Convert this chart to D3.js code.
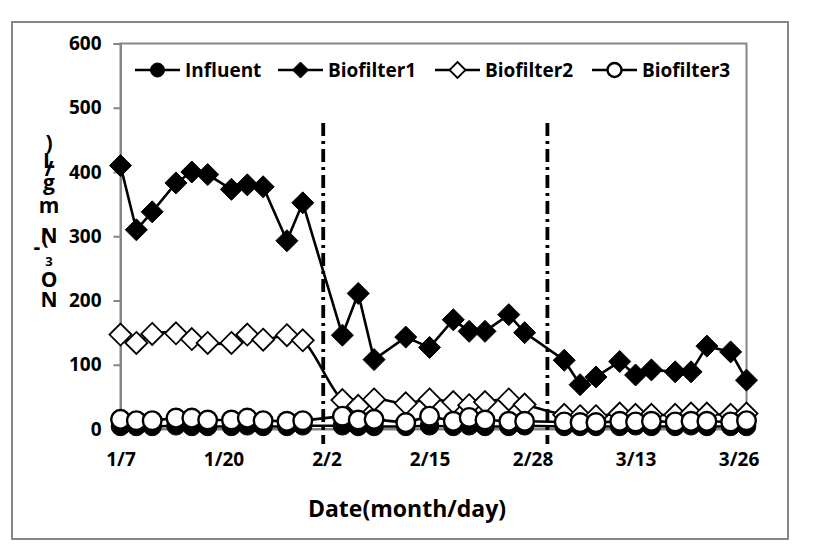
<!DOCTYPE html>
<html lang="en">
    <head>
        <meta charset="utf-8">
        <title>NO3-N in biofilters</title>
        <script type="text/javascript" src="https://cdn.jsdelivr.net/npm/d3@7/dist/d3.min.js"></script>
        <style type="text/css">
        body { margin: 0; background: #fff; }
        text { font-family: "Open Sans", "Liberation Sans", sans-serif; font-weight: bold; fill: #000; }
        .axis path, .axis line { stroke: #868686; stroke-width: 2px; }
        .line { fill: none; stroke: #000; stroke-width: 2.6px; }
        </style>
    </head>
    <body>
        <script type="text/javascript">

            // sampling days (2013)
            var sampleDates = ["1/7","1/9","1/11","1/14","1/16","1/18","1/21","1/23","1/25","1/28","1/30",
                               "2/4","2/6","2/8","2/12","2/15","2/18","2/20","2/22","2/25","2/27",
                               "3/4","3/6","3/8","3/11","3/13","3/15","3/18","3/20","3/22","3/25","3/27"];

            var influent   = [4,4,4,5,4,4,4,5,4,4,5, 5,4,4,4,5,4,5,4,4,5, 4,4,4,4,5,4,4,5,4,4,4];
            var biofilter1 = [410,310,338,383,400,396,373,380,377,293,352,
                              146,211,108,143,127,170,152,152,178,150,
                              107,69,81,105,84,92,89,89,129,120,76];
            var biofilter2 = [147,134,148,149,140,134,134,147,139,146,138,
                              45,36,46,40,46,42,37,42,46,38,
                              22,20,20,24,22,22,22,24,24,22,24];
            var biofilter3 = [15,13,13,17,17,14,14,17,13,12,13,
                              20,14,15,10,20,12,18,14,12,12,
                              11,10,10,12,11,12,11,12,12,11,13];

            var seriesNames = ["Influent", "Biofilter1", "Biofilter2", "Biofilter3"];
            var xTickLabels = ["1/7", "1/20", "2/2", "2/15", "2/28", "3/13", "3/26"];
            var yTicks = [0, 100, 200, 300, 400, 500, 600];
            var phaseStarts = ["2013-02-01T14:00", "2013-03-01T21:00"];
            var yTitle = "NO3-N(mg/L)";
            var xTitle = "Date(month/day)";

            var width = 818, height = 550;
            var plot = {left: 120.5, right: 746.5, top: 43.5, bottom: 429};

            function toDate(s) { var p = s.split("/"); return new Date(2013, +p[0] - 1, +p[1]); }

            var svg = d3.select("body").append("svg")
                .attr("width", width)
                .attr("height", height);

            svg.append("rect")
                .attr("width", width).attr("height", height).attr("fill", "#fff");

            // outer chart frame
            svg.append("rect")
                .attr("x", 12).attr("y", 22)
                .attr("width", 776).attr("height", 517)
                .attr("fill", "none").attr("stroke", "#868686").attr("stroke-width", 2);

            var x = d3.scaleTime()
                .domain([toDate("1/7"), toDate("3/27")])
                .range([plot.left, plot.right]);
            var y = d3.scaleLinear()
                .domain([0, 600])
                .range([plot.bottom, plot.top]);

            // plot area border
            svg.append("rect")
                .attr("x", plot.left).attr("y", plot.top)
                .attr("width", plot.right - plot.left).attr("height", plot.bottom - plot.top)
                .attr("fill", "none").attr("stroke", "#868686").attr("stroke-width", 2);

            var yAxis = d3.axisLeft(y).tickValues(yTicks).tickSize(7).tickPadding(12);
            var gy = svg.append("g")
                .attr("class", "axis")
                .attr("transform", "translate(" + plot.left + ",0)")
                .call(yAxis);
            gy.selectAll("text").style("font-size", "19px");

            var xAxis = d3.axisBottom(x)
                .tickValues(xTickLabels.map(toDate))
                .tickFormat(d3.timeFormat("%-m/%-d"))
                .tickSize(0).tickPadding(24);
            var gx = svg.append("g")
                .attr("class", "axis")
                .attr("transform", "translate(0," + plot.bottom + ")")
                .call(xAxis);
            gx.selectAll("text").style("font-size", "19px");

            // phase separators
            svg.selectAll(".phase")
                .data(phaseStarts)
              .enter().append("line")
                .attr("class", "phase")
                .attr("x1", function(d) { return x(new Date(d)); })
                .attr("x2", function(d) { return x(new Date(d)); })
                .attr("y1", 123).attr("y2", 444)
                .attr("stroke", "#000").attr("stroke-width", 3.8)
                .attr("stroke-dasharray", "13,5,3,5");

            var dates = sampleDates.map(toDate);
            var series = [
                {name: seriesNames[0], values: influent,   marker: "circle",  fill: "#000", curve: d3.curveLinear},
                {name: seriesNames[1], values: biofilter1, marker: "diamond", fill: "#000", curve: d3.curveLinear},
                {name: seriesNames[2], values: biofilter2, marker: "diamond", fill: "#fff", curve: d3.curveCatmullRom},
                {name: seriesNames[3], values: biofilter3, marker: "circle",  fill: "#fff", curve: d3.curveLinear}
            ];

            function diamond(h) { return "M0," + (-h) + "L" + h + ",0L0," + h + "L" + (-h) + ",0Z"; }

            function drawMarker(sel, s, big) {
                if (s.marker == "circle") {
                    sel.append("circle")
                        .attr("r", big ? 9.3 : 7)
                        .attr("fill", s.fill).attr("stroke", "#000")
                        .attr("stroke-width", s.fill == "#fff" ? 2.4 : 1);
                } else {
                    sel.append("path")
                        .attr("d", diamond(big ? 11 : 8))
                        .attr("fill", s.fill).attr("stroke", "#000")
                        .attr("stroke-width", s.fill == "#fff" ? 1.8 : 1);
                }
            }

            series.forEach(function(s) {
                var pts = s.values.map(function(v, i) { return {date: dates[i], v: v}; });
                var line = d3.line().curve(s.curve)
                    .x(function(d) { return x(d.date); })
                    .y(function(d) { return y(d.v); });
                var g = svg.append("g");
                g.append("path").attr("class", "line").attr("d", line(pts));
                g.selectAll(".pt")
                    .data(pts)
                  .enter().append("g")
                    .attr("class", "pt")
                    .attr("transform", function(d) { return "translate(" + x(d.date) + "," + y(d.v) + ")"; })
                    .each(function() { drawMarker(d3.select(this), s, true); });
            });

            // legend
            var legendX = [135, 278, 435, 592];
            var legend = svg.selectAll(".legend")
                .data(series)
              .enter().append("g")
                .attr("class", "legend")
                .attr("transform", function(d, i) { return "translate(" + legendX[i] + ",70)"; });
            legend.append("line")
                .attr("x1", 0).attr("x2", 45)
                .attr("stroke", "#000").attr("stroke-width", 2.6);
            legend.append("g")
                .attr("transform", "translate(22.5,0)")
                .each(function(d) { drawMarker(d3.select(this), d, false); });
            legend.append("text")
                .attr("x", 50).attr("dy", "0.36em")
                .style("font-size", "19px")
                .text(function(d) { return d.name; });

            // y title: Excel-style stacked glyphs, read bottom to top
            var glyphs = yTitle.split("");
            var baseY = [307, 287, 266, 254, 243, 244, 213, 190, 176, 168, 150];
            svg.selectAll(".ytitle")
                .data(glyphs)
              .enter().append("text")
                .attr("class", "ytitle")
                .attr("x", function(d) { return d == "-" ? 37 : (d == "(" ? 45 : 49); })
                .attr("y", function(d, i) { return baseY[i]; })
                .attr("text-anchor", "middle")
                .style("font-size", function(d) { return d == "3" ? "13px" : "21px"; })
                .text(function(d) { return d; });

            svg.append("text")
                .attr("x", 407).attr("y", 517)
                .attr("text-anchor", "middle")
                .style("font-size", "23px")
                .text(xTitle);
        </script>
    </body>
</html>
